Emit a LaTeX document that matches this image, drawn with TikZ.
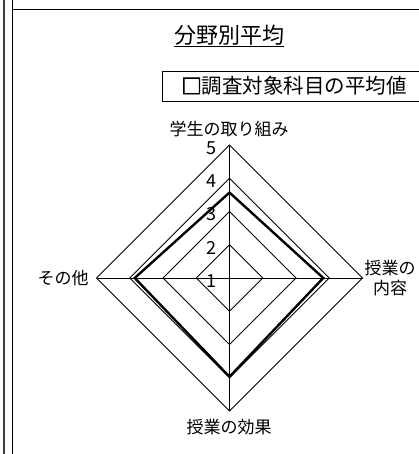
\documentclass[tikz,border=0pt]{standalone}
\usepackage{fontspec}
\setmainfont{Noto Sans CJK JP}[BoldFont={Noto Sans CJK JP}, BoldFeatures={FakeBold=3}]
\usetikzlibrary{positioning,calc}
\tikzset{
  ring/.style      = {draw, line width=0.8pt},
  axisline/.style  = {draw, line width=0.8pt},
  series/.style    = {draw, line width=2.4pt, line join=miter},
  axislabel/.style = {font=\fontsize{17}{20}\selectfont, align=center, inner sep=1pt},
  ticklabel/.style = {font=\fontsize{18}{20}\selectfont, anchor=east, inner sep=1pt},
  title/.style     = {font=\fontsize{22}{26}\selectfont, inner sep=1pt},
  legend/.style    = {draw, line width=0.8pt, font=\fontsize{20.5}{24}\selectfont,
                      anchor=west, minimum height=30pt, inner xsep=19pt, inner ysep=3pt}
}

\begin{document}
\begin{tikzpicture}[x=1pt,y=-1pt]
\useasboundingbox (0,0) rectangle (419,454);
\clip (0,0) rectangle (419,454);

% frame
\draw[line width=2pt, black!75] (3.5,0) -- (3.5,454);
\draw[line width=1.3pt] (12.5,0) -- (12.5,454);
\draw[line width=1pt] (12.5,9.5) -- (419,9.5);

% title and legend
\node[title] (title) at (229,36) {\underline{分野別平均}};
\node[legend] (key) at (162,86) {\textbf{□}調査対象科目の平均値};

% centre and outer corners
\coordinate (c) at (229.5,278);
\coordinate (top) at (229.5,145);
\coordinate (right) at (362.5,278);
\coordinate (bottom) at (229.5,411);
\coordinate (left) at (96.5,278);

% rings 2..5
\foreach \v in {2,...,5}{
  \pgfmathsetmacro\r{(\v-1)*33.25}
  \draw[ring, shift={(c)}] (0,-\r) -- (\r,0) -- (0,\r) -- (-\r,0) -- cycle;
}

\foreach \a in {top,right,bottom,left}
  \draw[axisline] (c) -- (\a);

% scale
\foreach \v in {1,...,5}
  \node[ticklabel] (t\v) at (218,{281-(\v-1)*33.25}) {\v};

% average values
\draw[series] ($(c)!0.6425!(top)$) -- ($(c)!0.705!(right)$)
  -- ($(c)!0.7425!(bottom)$) -- ($(c)!0.7125!(left)$) -- cycle;

% axis names
\node[axislabel] (ltop) at (229,129) {学生の取り組み};
\node[axislabel] (lright) at (390,278) {授業の\\内容};
\node[axislabel] (lbottom) at (229,427) {授業の効果};
\node[axislabel] (lleft) at (63,278) {その他};

\end{tikzpicture}
\end{document}
